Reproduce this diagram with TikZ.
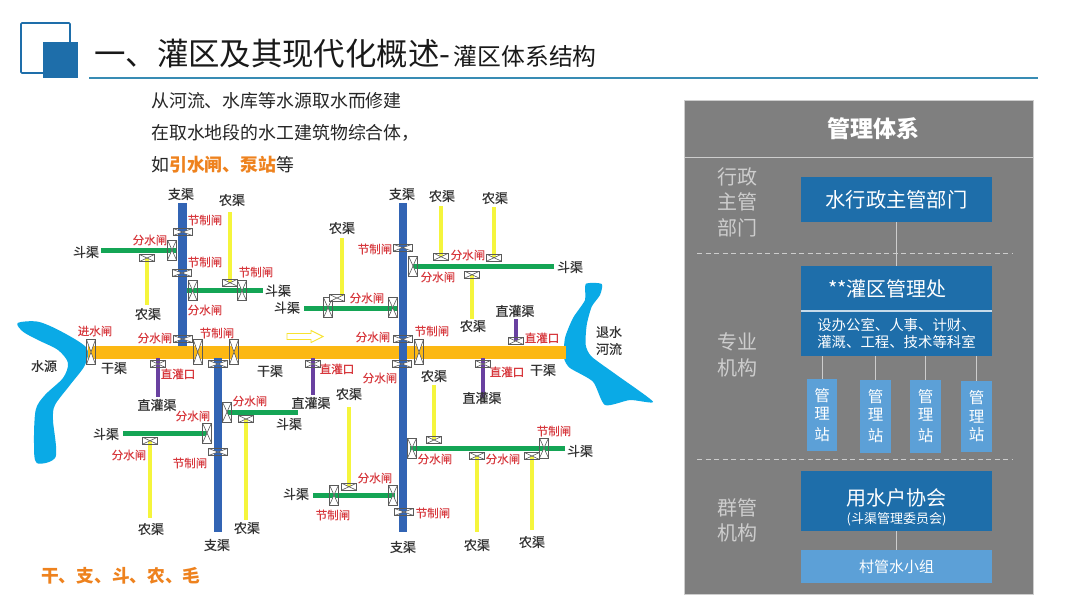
\documentclass[tikz,border=0pt]{standalone}
\usepackage{fontspec}
\setmainfont{Noto Sans CJK SC}
\newfontfamily\mapfont[FakeBold=0.4]{Noto Sans CJK SC}
\usepackage{xcolor}
\usepackage{tikz}
\usetikzlibrary{positioning}
\definecolor{cDeep}{RGB}{30,110,170}
\definecolor{cLight}{RGB}{92,160,215}
\definecolor{cPanel}{RGB}{127,127,127}
\definecolor{cPale}{RGB}{205,205,205}
\definecolor{cRule}{RGB}{56,140,180}
\definecolor{cRiver}{RGB}{10,170,230}
\definecolor{cMain}{RGB}{252,184,19}
\definecolor{cBranch}{RGB}{50,100,180}
\definecolor{cLateral}{RGB}{20,165,85}
\definecolor{cFarm}{RGB}{245,245,60}
\definecolor{cDirect}{RGB}{105,65,160}
\definecolor{cGate}{RGB}{90,90,90}
\definecolor{cRed}{RGB}{215,55,60}
\definecolor{cOrange}{RGB}{238,130,30}
\tikzset{
	gatev/.style   ={rectangle, draw=cGate, line width=0.7pt, inner sep=0pt, minimum width=9pt, minimum height=#1, path picture={\fill[white] (path picture bounding box.north west)--(path picture bounding box.north east)--(path picture bounding box.south west)--(path picture bounding box.south east)--cycle; \draw[cGate, line width=0.6pt] (path picture bounding box.north west)--(path picture bounding box.south east) (path picture bounding box.north east)--(path picture bounding box.south west);}},
	gateh/.style   ={rectangle, draw=cGate, line width=0.7pt, inner sep=0pt, minimum height=7pt, minimum width=#1, path picture={\fill[white] (path picture bounding box.north west)--(path picture bounding box.south west)--(path picture bounding box.north east)--(path picture bounding box.south east)--cycle; \draw[cGate, line width=0.6pt] (path picture bounding box.north west)--(path picture bounding box.south east) (path picture bounding box.north east)--(path picture bounding box.south west);}},
	canaltxt/.style={inner sep=0pt, text=black!80, font=\mapfont\fontsize{13}{15}\selectfont},
	gatetxt/.style ={inner sep=0pt, text=cRed, font=\mapfont\fontsize{11.5}{14}\selectfont},
	deepbox/.style ={rectangle, fill=cDeep, text=white, inner sep=0pt, outer sep=0pt, minimum width=191pt, align=center},
	lightbox/.style={rectangle, fill=cLight, text=white, inner sep=0pt, outer sep=0pt, align=center},
	tiertxt/.style ={inner sep=0pt, text=cPale, align=center, font=\fontsize{20}{25.5}\selectfont},
	tie/.style     ={draw=cPale, line width=0.7pt},
	tierline/.style={draw=cPale, line width=0.9pt, dash pattern=on 5pt off 3.5pt},
}
\begin{document}
\begin{tikzpicture}[x=1pt, y=-1pt]
	\useasboundingbox (0,0) rectangle (1080,608);
	\fill[white] (0,0) rectangle (1080,608);
	\draw[cDeep, line width=1.6pt, rounded corners=1pt] (21,23) rectangle (70,73);
	\fill[cDeep] (43,42) rectangle (78,78);
	\draw[cRule, line width=1.3pt] (89,78) -- (1038,78);
	\node[anchor=west, inner sep=0pt, text=black!90] (title) at (94,53.5) {\fontsize{31.4}{36}\selectfont 一、灌区及其现代化概述-\hspace{3.5pt}\fontsize{23.8}{36}\selectfont 灌区体系结构};
	\node[anchor=west, inner sep=0pt, text=black!85, font=\fontsize{17.9}{22}\selectfont] (intro1) at (151,101) {从河流、水库等水源取水而修建};
	\node[anchor=west, inner sep=0pt, text=black!85, font=\fontsize{17.9}{22}\selectfont] (intro2) at (151,133) {在取水地段的水工建筑物综合体，};
	\node[anchor=west, inner sep=0pt, text=black!85, font=\fontsize{17.9}{22}\selectfont] (intro3) at (151,165) {如\textbf{\textcolor{cOrange}{引水闸、泵站}}等};
	\node[anchor=west, inner sep=0pt, text=cOrange, font=\bfseries\fontsize{17.7}{22}\selectfont] (ranks) at (41,576) {干、支、斗、农、毛};

	\fill[cRiver] plot[smooth cycle, tension=0.5] coordinates {(17.7,323) (38,321.7) (61.7,331.7) (86.7,348) (85,365) (70,385) (55,405) (53,420) (55.7,456.7) (36.7,463) (34,443) (35.7,410) (45,395) (63,378) (68,363) (58,350) (38,340) (23,331.7)};
	\fill[cRiver] plot[smooth cycle, tension=0.4] coordinates {(585.7,284) (601.7,284) (600,295) (591.7,306.7) (586.7,325) (585.7,345) (591.7,356.7) (616.7,375) (653,401.7) (630,400) (605,405) (593,381.7) (570,368) (564,358) (565,338) (573,318) (585,300)};

	\fill[cMain] (88,345.5) rectangle (566,358.5);
	\foreach \x/\ya/\yb in {182.5/203/346, 218/358/532, 403/203/532}
		\draw[cBranch, line width=8.5pt] (\x,\ya) -- (\x,\yb);
	\foreach \xa/\xb/\y in {101/177/250, 187/263/290.7, 304/398/308, 413/554/266, 227/298/412, 123/207/433, 313/395/495, 410/565/448}
		\draw[cLateral, line width=5pt] (\xa,\y) -- (\xb,\y);
	\foreach \x/\ya/\yb in {147/258/305, 230/212/283, 342/238/298, 441/206/257, 494/207/258, 472/275/319, 246/419/520, 150/441/518, 349/407/487, 434/385/440, 477/456/532, 532/456/530}
		\draw[cFarm, line width=3.2pt] (\x,\ya) -- (\x,\yb);
	\foreach \x/\ya/\yb in {516/319/341, 158/358/397, 313/358/395, 483/358/398}
		\draw[cDirect, line width=3.2pt] (\x,\ya) -- (\x,\yb);
	\draw[cFarm!70!cMain, fill=white, line width=0.9pt] (287,333.5) -- (311,333.5) -- (311,330.5) -- (323,336.5) -- (311,342.5) -- (311,339.5) -- (287,339.5) -- cycle;

	\foreach \x/\y [count=\i] in {91/352, 197.7/352, 234/352, 419/352}
		\node[gatev=25pt] (main\i) at (\x,\y) {};
	\foreach \x/\y [count=\i] in {172/250, 192.7/290.7, 242/290.7, 328/307.7, 413/266, 392.7/307.7, 227/412, 207/433, 334/495, 393/495, 412/448, 544/448}
		\node[gatev=20pt] (lat\i) at (\x,\y) {};
	\foreach \x/\y [count=\i] in {182.7/232, 182/273, 182.7/339, 402.7/247.7, 402.7/339.3, 402/364, 218/364, 218/452, 404/512}
		\node[gateh=19pt] (bra\i) at (\x,\y) {};
	\foreach \x/\y [count=\i] in {147/258, 230/282.7, 337/298, 441/256.7, 494/257.7, 472/274.7, 515.7/341, 483/364, 158/364, 313/364, 246/419, 150/440.7, 349/486.7, 434/440, 477/456, 532/456}
		\node[gateh=15pt] (far\i) at (\x,\y) {};

	\foreach \x/\y/\t [count=\i] in {181/194/支渠, 232/200/农渠, 86/252/斗渠, 148/314/农渠, 278/290.7/斗渠, 287/307.7/斗渠, 44/366/水源, 114/368/干渠, 270/371/干渠, 342/228/农渠, 402/194/支渠, 442/196/农渠, 495/198/农渠, 570/267/斗渠, 515/311/直灌渠, 473/326/农渠, 609/332/退水, 609/349/河流, 543/370/干渠, 157/405/直灌渠, 106/434/斗渠, 311/403/直灌渠, 289/424/斗渠, 151/529/农渠, 247/528/农渠, 217/545/支渠, 296/494/斗渠, 349/394/农渠, 434/376/农渠, 482/398/直灌渠, 580/451/斗渠, 403/547/支渠, 477/545/农渠, 532/542/农渠}
		\node[canaltxt] (can\i) at (\x,\y) {\t};
	\foreach \x/\y/\t [count=\i] in {205/220/节制闸, 150/240/分水闸, 205/262/节制闸, 256/272/节制闸, 205/310/分水闸, 95/331/进水闸, 155/338/分水闸, 217/333/节制闸, 375/249/节制闸, 468/255/分水闸, 438/277/分水闸, 367/298/分水闸, 373/337/分水闸, 432/331/节制闸, 542/338/直灌口, 178/374/直灌口, 250/401/分水闸, 193/416/分水闸, 129/455/分水闸, 190/463/节制闸, 337/369/直灌口, 380/378/分水闸, 507/372/直灌口, 554/431/节制闸, 435/459/分水闸, 503/459/分水闸, 375/478/分水闸, 333/515/节制闸, 433/513/节制闸}
		\node[gatetxt] (gtx\i) at (\x,\y) {\t};

	\fill[cPanel] (684,100) rectangle (1033,594);
	\draw[cPale, line width=0.5pt] (684,100) rectangle (1033,594);
	\draw[cPale, line width=0.9pt] (684,157) -- (1033,157);
	\draw[tierline] (697,253) -- (1012,253);
	\draw[tierline] (697,459) -- (1012,459);
	\node[inner sep=0pt, text=white, font=\bfseries\fontsize{23}{28}\selectfont] (head) at (873,129) {管理体系};
	\node[tiertxt] (tier1) at (737,202) {行政\\主管\\部门};
	\node[tiertxt] (tier2) at (737,355) {专业\\机构};
	\node[tiertxt] (tier3) at (737,520.5) {群管\\机构};

	\node[deepbox, minimum height=45pt, font=\fontsize{20.3}{24}\selectfont] (admin) at (896.5,199.5) {水行政主管部门};
	\node[deepbox, below=44pt of admin, minimum height=45pt, font=\fontsize{20}{24}\selectfont] (office) {\hspace*{-18pt}**灌区管理处};
	\node[deepbox, below=0pt of office, minimum height=45pt, font=\fontsize{14.4}{17}\selectfont] (depts) {设办公室、人事、计财、\\灌溉、工程、技术等科室};
	\draw[white!75!cDeep, line width=1.4pt] (office.south west) -- (office.south east);
	\node[lightbox, minimum width=30pt, minimum height=72pt, font=\fontsize{15.5}{18}\selectfont] (st1) at (822,415) {管\\理\\[3pt]站};
	\node[lightbox, minimum width=31pt, minimum height=73pt, font=\fontsize{15.5}{18}\selectfont] (st2) at (875.5,416.5) {管\\理\\[3pt]站};
	\node[lightbox, minimum width=31pt, minimum height=73pt, font=\fontsize{15.5}{18}\selectfont] (st3) at (925.5,416.5) {管\\理\\[3pt]站};
	\node[lightbox, minimum width=31pt, minimum height=71pt, font=\fontsize{15.5}{18.5}\selectfont] (st4) at (976.5,416.5) {管\\理\\站};
	\node[deepbox, minimum height=60pt] (wua) at (896.5,501) {\rule{0pt}{30pt}{\fontsize{20}{24}\selectfont 用水户协会}\\[4pt]{\fontsize{13}{15}\selectfont (斗渠管理委员会)}};
	\node[lightbox, below=19pt of wua, minimum width=191pt, minimum height=33pt, font=\fontsize{15}{18}\selectfont] (group) {村管水小组};

	\draw[tie] (admin) -- (office);
	\foreach \s in {st1, st2, st3, st4}
		\draw[tie] (\s.north) -- (\s.north |- depts.south);
	\draw[tie] (wua) -- (group);
\end{tikzpicture}
\end{document}
